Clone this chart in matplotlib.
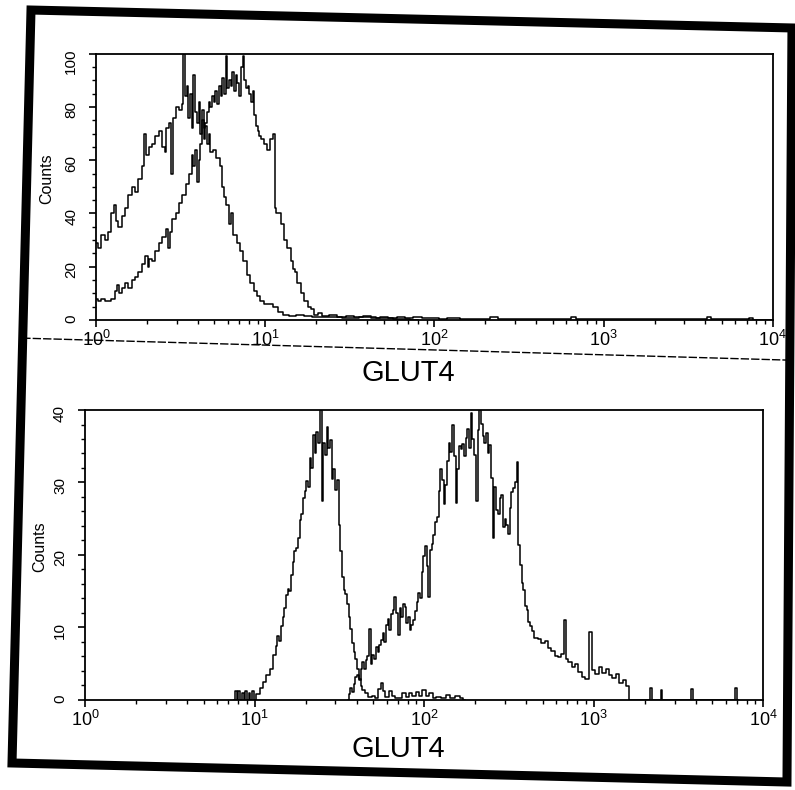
import numpy as np
import matplotlib.pyplot as plt
from matplotlib.ticker import LogLocator, MultipleLocator, NullFormatter
from matplotlib.patches import Polygon
from matplotlib.lines import Line2D

plt.rcParams['font.family'] = ['Liberation Sans', 'DejaVu Sans']
plt.rcParams['mathtext.default'] = 'regular'

# top panel, control histogram (left peak): log10 channel, counts
top_ctrl_log = [0.00, 0.02, 0.04, 0.06, 0.08, 0.10, 0.11, 0.12, 0.14, 0.16,
                0.18, 0.20, 0.22, 0.24, 0.26, 0.28, 0.29, 0.30, 0.32, 0.34,
                0.36, 0.38, 0.40, 0.41, 0.42, 0.44, 0.45, 0.46, 0.48, 0.50,
                0.51, 0.52, 0.53, 0.54, 0.55, 0.56, 0.57, 0.58, 0.59, 0.60,
                0.61, 0.62, 0.63, 0.64, 0.65, 0.66, 0.67, 0.68, 0.70, 0.72,
                0.74, 0.75, 0.76, 0.78, 0.79, 0.80, 0.82, 0.84, 0.86, 0.88,
                0.90, 0.92, 0.94, 0.96, 0.98, 1.00, 1.03, 1.06, 1.09, 1.12,
                1.16, 1.20, 1.25, 1.30, 1.40, 1.50, 1.60, 1.70, 1.80, 1.90]
top_ctrl_cnt = [29, 27, 32, 30, 33, 40, 43, 37, 35, 39,
                42, 47, 50, 48, 53, 58, 70, 62, 65, 66,
                69, 71, 65, 63, 72, 74, 55, 76, 80, 79,
                81, 100, 84, 88, 76, 85, 72, 92, 78, 74,
                82, 70, 79, 68, 73, 66, 70, 63, 64, 61,
                58, 50, 46, 43, 36, 40, 32, 29, 26, 22,
                17, 14, 11, 9, 7, 6, 6, 5, 3, 2,
                1.5, 2, 1.5, 1, 1, 0.8, 1, 0.6, 0.5, 0]

# top panel, GLUT4 stained histogram (right peak)
top_glut_log = [0.00, 0.02, 0.04, 0.06, 0.08, 0.10, 0.12, 0.13, 0.14, 0.16,
                0.18, 0.20, 0.22, 0.24, 0.26, 0.28, 0.30, 0.31, 0.32, 0.34,
                0.36, 0.38, 0.40, 0.42, 0.43, 0.44, 0.46, 0.48, 0.50, 0.52,
                0.54, 0.56, 0.57, 0.58, 0.59, 0.60, 0.61, 0.62, 0.63, 0.64,
                0.65, 0.66, 0.67, 0.68, 0.69, 0.70, 0.71, 0.72, 0.73, 0.74,
                0.75, 0.76, 0.77, 0.78, 0.79, 0.80, 0.81, 0.82, 0.83, 0.84,
                0.85, 0.86, 0.87, 0.88, 0.89, 0.90, 0.91, 0.92, 0.93, 0.94,
                0.95, 0.96, 0.97, 0.98, 1.00, 1.02, 1.04, 1.05, 1.06, 1.07,
                1.08, 1.10, 1.12, 1.14, 1.16, 1.17, 1.18, 1.20, 1.22, 1.24,
                1.26, 1.28, 1.30, 1.32, 1.35, 1.40, 1.45, 1.50, 1.55, 1.60,
                1.65, 1.70, 1.75, 1.80, 1.85, 1.90, 1.95, 2.00, 2.05, 2.10,
                2.20, 2.30, 2.35, 2.40, 2.60, 2.80, 2.82, 2.85, 3.20, 3.60,
                3.62, 3.65, 3.85, 3.87, 3.90, 4.00]
top_glut_cnt = [8, 7, 8, 7, 7, 8, 11, 13, 10, 12,
                14, 12, 15, 16, 18, 21, 24, 20, 23, 22,
                26, 29, 31, 34, 27, 33, 38, 40, 44, 47,
                51, 55, 62, 58, 64, 52, 60, 66, 75, 72,
                74, 78, 82, 80, 84, 82, 86, 81, 88, 84,
                91, 85, 99, 87, 90, 88, 93, 86, 92, 89,
                84, 95, 99, 90, 87, 88, 85, 82, 86, 77,
                73, 71, 69, 68, 66, 64, 68, 70, 42, 40,
                40, 36, 30, 27, 22, 19, 18, 14, 10, 7,
                5, 4, 2, 2.5, 1.5, 1.8, 1.2, 1.5, 1, 1.3,
                0.8, 1.2, 0.7, 1, 0.8, 1, 0.6, 0.8, 0.5, 0.6,
                0.4, 0.5, 1.2, 0.4, 0.3, 0.4, 1.2, 0.3, 0.2, 0.2,
                1.0, 0.2, 0.2, 0.8, 0.1, 0]

# bottom panel, control histogram (left peak)
bot_ctrl_log = [0.88, 0.89, 0.90, 0.91, 0.92, 0.93, 0.94, 0.95, 0.96, 0.97,
                0.98, 0.99, 1.00, 1.02, 1.04, 1.06, 1.08, 1.10, 1.12, 1.13,
                1.14, 1.15, 1.16, 1.17, 1.18, 1.19, 1.20, 1.21, 1.22, 1.23,
                1.24, 1.25, 1.26, 1.27, 1.28, 1.29, 1.30, 1.31, 1.32, 1.33,
                1.34, 1.35, 1.36, 1.37, 1.38, 1.39, 1.40, 1.41, 1.42, 1.43,
                1.44, 1.45, 1.46, 1.47, 1.48, 1.49, 1.50, 1.51, 1.52, 1.53,
                1.54, 1.55, 1.56, 1.57, 1.58, 1.59, 1.60, 1.61, 1.62, 1.63,
                1.64, 1.66, 1.68, 1.70, 1.72, 1.74, 1.75, 1.76, 1.78, 1.80,
                1.82, 1.84, 1.86, 1.88, 1.90, 1.92, 1.94, 1.96, 1.98, 2.00,
                2.02, 2.04, 2.06, 2.08, 2.12, 2.14, 2.16, 2.20, 2.22, 2.24]
bot_ctrl_cnt = [0, 1.2, 0, 1.3, 0, 1.0, 0, 1.2, 0, 1.0,
                0, 1.3, 0, 0.8, 1.6, 2.5, 3.4, 4.3, 6.2, 7.5,
                8.8, 8.2, 10.2, 11.5, 12.7, 14.5, 15.3, 15.0, 17.2, 19.0,
                20.5, 20.9, 22.4, 24.8, 25.6, 27.9, 28.8, 30.2, 29.4, 33.4,
                32.0, 36.5, 34.0, 37.0, 35.5, 40.0, 27.5, 35.5, 33.8, 37.6,
                34.7, 35.8, 30.5, 31.8, 29.0, 30.4, 24.2, 20.5, 17.0, 15.2,
                14.6, 13.2, 11.5, 9.8, 7.9, 6.6, 5.7, 4.3, 2.9, 1.9,
                1.4, 0.9, 0.4, 0.6, 0.3, 1.5, 2.4, 1.2, 0.4, 1.3,
                0.5, 0.2, 0.3, 0.9, 0.4, 1.0, 0.5, 1.1, 0.6, 1.4,
                0.5, 0.9, 0.3, 0.4, 0.2, 0.7, 0.3, 0.5, 0.2, 0]

# bottom panel, GLUT4 stained histogram (right peak)
bot_glut_log = [1.55, 1.56, 1.57, 1.58, 1.59, 1.60, 1.61, 1.62, 1.63, 1.64,
                1.65, 1.66, 1.67, 1.68, 1.69, 1.70, 1.71, 1.72, 1.73, 1.74,
                1.75, 1.76, 1.77, 1.78, 1.79, 1.80, 1.81, 1.82, 1.83, 1.84,
                1.85, 1.86, 1.87, 1.88, 1.89, 1.90, 1.91, 1.92, 1.93, 1.94,
                1.95, 1.96, 1.97, 1.98, 1.99, 2.00, 2.01, 2.02, 2.03, 2.04,
                2.05, 2.06, 2.07, 2.08, 2.09, 2.10, 2.11, 2.12, 2.13, 2.14,
                2.15, 2.16, 2.17, 2.18, 2.19, 2.20, 2.21, 2.22, 2.23, 2.24,
                2.25, 2.26, 2.27, 2.28, 2.29, 2.30, 2.31, 2.32, 2.33, 2.34,
                2.35, 2.36, 2.37, 2.38, 2.39, 2.40, 2.41, 2.42, 2.43, 2.44,
                2.45, 2.46, 2.47, 2.48, 2.49, 2.50, 2.51, 2.52, 2.53, 2.54,
                2.55, 2.56, 2.57, 2.58, 2.59, 2.60, 2.61, 2.62, 2.63, 2.64,
                2.66, 2.68, 2.70, 2.72, 2.74, 2.76, 2.78, 2.80, 2.82, 2.83,
                2.84, 2.86, 2.88, 2.90, 2.92, 2.94, 2.96, 2.98, 3.00, 3.02,
                3.04, 3.06, 3.08, 3.10, 3.12, 3.14, 3.16, 3.18, 3.20, 3.22,
                3.33, 3.34, 3.35, 3.39, 3.40, 3.41, 3.57, 3.58, 3.59, 3.83,
                3.84, 3.85]
bot_glut_cnt = [0, 0.8, 1.6, 1.1, 2.2, 3.1, 3.5, 2.7, 4.3, 5.2,
                4.2, 5.5, 6.1, 9.8, 5.0, 6.2, 5.6, 7.3, 6.6, 7.6,
                8.3, 9.2, 8.0, 10.4, 11.2, 9.7, 11.9, 12.4, 14.2, 12.0,
                8.9, 12.7, 11.5, 13.3, 12.8, 10.6, 11.4, 9.6, 10.3, 11.0,
                12.3, 13.5, 14.8, 14.1, 17.6, 19.8, 21.2, 18.5, 14.2, 20.7,
                21.5, 22.8, 24.6, 25.3, 28.8, 31.9, 30.4, 27.1, 29.6, 33.0,
                35.4, 34.2, 38.0, 33.6, 27.2, 31.8, 35.1, 34.6, 35.3, 33.7,
                36.2, 37.4, 34.8, 39.6, 36.0, 33.8, 27.4, 37.2, 40.0, 38.1,
                36.4, 35.5, 36.8, 34.0, 35.2, 30.6, 22.3, 29.4, 26.2, 25.7,
                27.9, 28.3, 23.8, 25.0, 24.1, 22.9, 26.5, 28.7, 29.3, 30.1,
                32.8, 21.4, 18.6, 16.2, 15.1, 12.9, 12.4, 10.7, 10.2, 9.5,
                8.6, 8.4, 7.9, 8.2, 7.2, 6.8, 6.1, 5.9, 6.4, 11.0,
                5.6, 5.3, 4.6, 4.9, 3.8, 3.1, 2.9, 9.4, 4.1, 3.6,
                4.5, 3.7, 4.3, 3.4, 3.0, 3.6, 2.4, 2.8, 1.9, 0,
                0, 1.6, 0, 0, 1.4, 0, 0, 1.5, 0, 0,
                1.6, 0]

fig = plt.figure(figsize=(7.95, 7.90), dpi=100)
ax1 = fig.add_axes([0.121, 0.595, 0.851, 0.337])
ax2 = fig.add_axes([0.107, 0.114, 0.853, 0.367])


def style(ax, ymax, major, minor):
    ax.set_xscale('log')
    ax.set_xlim(1, 1e4)
    ax.set_ylim(0, ymax)
    ax.yaxis.set_major_locator(MultipleLocator(major))
    ax.yaxis.set_minor_locator(MultipleLocator(minor))
    ax.xaxis.set_major_locator(LogLocator(base=10, numticks=10))
    ax.xaxis.set_minor_locator(LogLocator(base=10, subs=np.arange(2, 10), numticks=10))
    ax.xaxis.set_minor_formatter(NullFormatter())
    ax.tick_params(which='both', direction='out', top=False, right=False, color='black')
    ax.tick_params(axis='y', which='major', length=5, width=1.2, labelsize=11,
                   labelrotation=90, pad=8)
    ax.tick_params(axis='y', which='minor', length=3, width=1)
    ax.tick_params(axis='x', which='major', length=5, width=1.2, labelsize=13, pad=2)
    ax.tick_params(axis='x', which='minor', length=3, width=1)
    for s in ax.spines.values():
        s.set_linewidth(1.3)
        s.set_color('black')
    ax.set_ylabel('Counts', fontsize=11.5)


# top histograms
ax1.plot(10 ** np.array(top_ctrl_log), top_ctrl_cnt, drawstyle='steps-mid', color='black', lw=1.1)
ax1.plot(10 ** np.array(top_glut_log), top_glut_cnt, drawstyle='steps-mid', color='black', lw=1.1)
style(ax1, 100, 20, 5)
ax1.yaxis.set_label_coords(-0.062, 0.53)

# bottom histograms
ax2.plot(10 ** np.array(bot_ctrl_log), bot_ctrl_cnt, drawstyle='steps-mid', color='black', lw=1.1)
ax2.plot(10 ** np.array(bot_glut_log), bot_glut_cnt, drawstyle='steps-mid', color='black', lw=1.1)
style(ax2, 40, 10, 2)
ax2.yaxis.set_label_coords(-0.056, 0.53)

fig.text(0.513, 0.528, 'GLUT4', ha='center', va='center', fontsize=21)
fig.text(0.501, 0.052, 'GLUT4', ha='center', va='center', fontsize=21)

# the scan is tilted a little: seam between panels and thick outer frame
fig.add_artist(Line2D([0.028, 0.997], [0.572, 0.544], transform=fig.transFigure,
                      color='black', lw=1, linestyle=(0, (6, 1.5))))
frame_xy = [(0.0390, 0.9873), (0.9962, 0.9646), (0.9899, 0.0101), (0.0151, 0.0342)]
fig.add_artist(Polygon(frame_xy, closed=True, transform=fig.transFigure,
                       fill=False, edgecolor='black', lw=6.5, joinstyle='miter'))

fig.savefig('out.png', dpi=100)
